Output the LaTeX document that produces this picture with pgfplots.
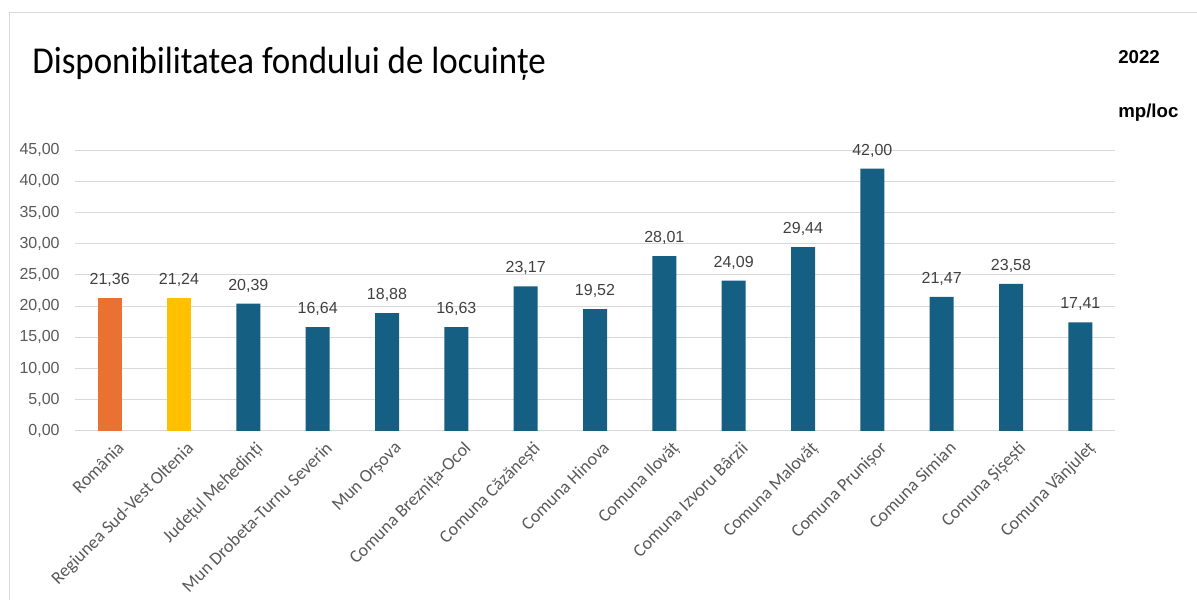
\documentclass[border=0pt]{standalone}
\usepackage{fontspec}
\setmainfont{Liberation Sans}
\newfontfamily\carlito{Carlito}
\newfontfamily\titlefont[FakeStretch=0.92]{Carlito}
\usepackage{pgfplots}
\pgfplotsset{compat=1.18}
\definecolor{cOrange}{HTML}{E97132}
\definecolor{cYellow}{HTML}{FFC000}
\definecolor{cBlue}{HTML}{156082}
\definecolor{cGrid}{HTML}{D9D9D9}
\definecolor{cTick}{HTML}{595959}
\definecolor{cLab}{HTML}{404040}
\pgfplotsset{/pgf/number format/assume math mode=true}
\begin{document}
\begin{tikzpicture}
\useasboundingbox (0,0) rectangle (897.75pt,450pt);
\draw[cGrid, line width=0.75pt] (6.75pt,-5pt) -- (6.75pt,440.25pt) -- (905pt,440.25pt);
\node[anchor=base west, font=\titlefont\fontsize{28.5}{32}\selectfont, inner sep=0pt] at (24pt,394.5pt) {Disponibilitatea fondului de locuințe};
\node[anchor=base west, font=\bfseries\fontsize{14}{16}\selectfont, inner sep=0pt] at (838.5pt,402pt) {2022};
\node[anchor=base west, font=\bfseries\fontsize{14}{16}\selectfont, inner sep=0pt] at (838.5pt,361.5pt) {mp/loc};
\begin{axis}[
  at={(56.25pt,126.75pt)}, anchor=south west,
  scale only axis, width=780pt, height=210.75pt,
  xmin=-0.5, xmax=14.5, ymin=0, ymax=45,
  axis x line*=bottom, axis y line*=left,
  x axis line style={cGrid, line width=0.75pt, -},
  y axis line style={draw=none},
  ytick={0,5,...,45},
  yticklabel={\pgfmathprintnumber[fixed,fixed zerofill,precision=2,use comma]{\tick}},
  yticklabel style={font=\fontsize{12}{14}\selectfont, text=cTick, xshift=-8pt},
  ymajorgrids, grid style={cGrid, line width=0.75pt},
  major tick length=0pt,
  xtick={0,...,14},
  xticklabels={România, Regiunea Sud-Vest Oltenia, Județul Mehedinți, Mun Drobeta-Turnu Severin, Mun Orșova, Comuna Breznița-Ocol, Comuna Căzănești, Comuna Hinova, Comuna Ilovăț, Comuna Izvoru Bârzii, Comuna Malovăț, Comuna Prunișor, Comuna Simian, Comuna Șișești, Comuna Vânjuleț},
  xticklabel style={font=\carlito\fontsize{13.5}{15}\selectfont, text=cTick, rotate=45, anchor=north east, xshift=2pt, yshift=-5pt},
  nodes near coords={\pgfmathprintnumber[fixed,fixed zerofill,precision=2,use comma]{\pgfplotspointmeta}},
  every node near coord/.append style={font=\fontsize{12}{14}\selectfont, text=cLab, yshift=5pt},
  clip=false,
]
\addplot[ybar, bar width=18pt, fill=cOrange, draw=none] coordinates {(0,21.36)};
\addplot[ybar, bar width=18pt, fill=cYellow, draw=none] coordinates {(1,21.24)};
\addplot[ybar, bar width=18pt, fill=cBlue, draw=none] coordinates {
(2,20.39) (3,16.64) (4,18.88) (5,16.63) (6,23.17) (7,19.52) (8,28.01) (9,24.09) (10,29.44) (11,42.00) (12,21.47) (13,23.58) (14,17.41)};
\end{axis}
\end{tikzpicture}
\end{document}
